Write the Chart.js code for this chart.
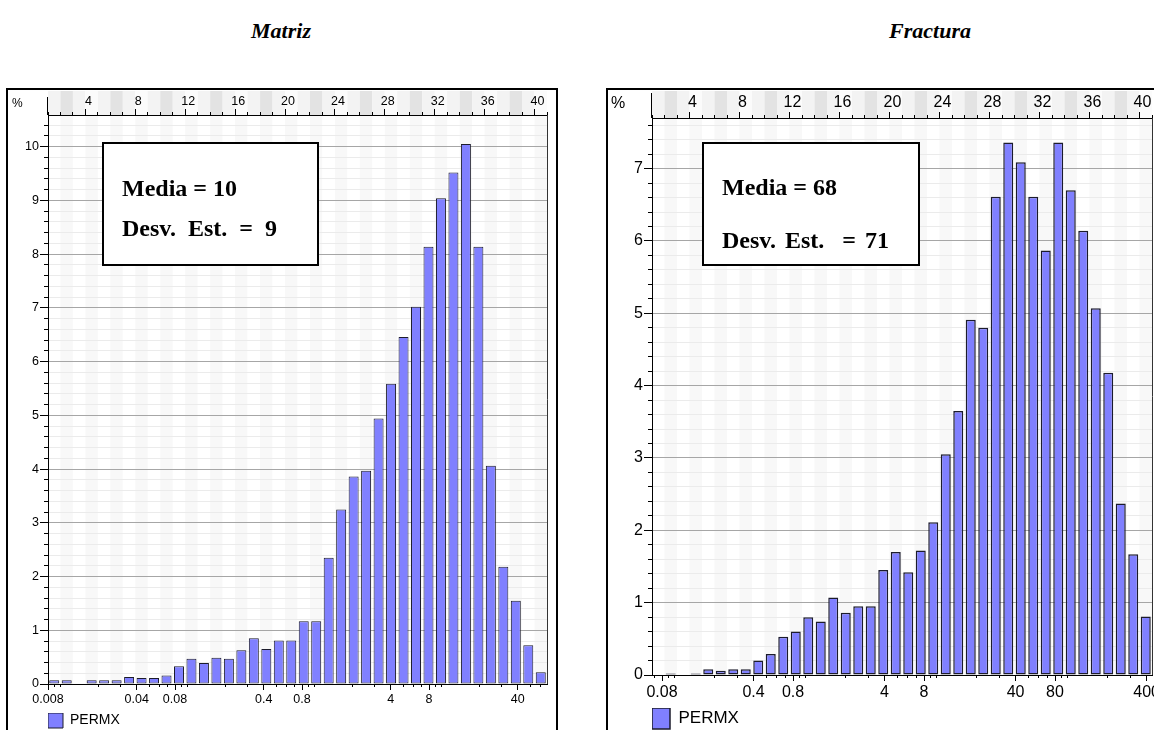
<!DOCTYPE html>
<html>
<head>
<meta charset="utf-8">
<script src="https://cdn.jsdelivr.net/npm/chart.js@4.4.1/dist/chart.umd.min.js"></script>
<style>
  html, body { margin:0; padding:0; background:#fff; width:1154px; height:730px; overflow:hidden; position:relative; }
  canvas { position:absolute; }
  .frame { position:absolute; box-sizing:border-box; border:2px solid #000; background:transparent; z-index:2; pointer-events:none; }
  .title { position:absolute; font-family:'Liberation Serif','Times New Roman',serif; font-weight:bold; font-style:italic; font-size:22px; transform:translateX(-50%); white-space:nowrap; line-height:22px; }
  .statbox { position:absolute; box-sizing:border-box; border:2px solid #000; background:#fff; z-index:3; }
  .stat { position:absolute; font-family:'Liberation Serif','Times New Roman',serif; font-weight:bold; font-size:24px; line-height:24px; white-space:pre; z-index:4; }
  .pct { position:absolute; font-family:'Liberation Sans',Arial,sans-serif; z-index:4; }
</style>
</head>
<body>
<div class="title" style="left:281px; top:20px;">Matriz</div>
<div class="title" style="left:930px; top:20px;">Fractura</div>

<canvas id="c1" width="556" height="660" style="left:0px; top:90px;"></canvas>
<canvas id="c2" width="570" height="660" style="left:600px; top:90px;"></canvas>

<div class="frame" style="left:6px; top:88px; width:552px; height:700px;"></div>
<div class="frame" style="left:606px; top:88px; width:700px; height:700px;"></div>

<div class="pct" style="left:12px; top:96px; font-size:12px;">%</div>
<div class="pct" style="left:611px; top:94px; font-size:16px;">%</div>

<div class="statbox" style="left:102px; top:142px; width:217px; height:124px;"></div>
<div class="stat" style="left:122px; top:176px;">Media = 10</div>
<div class="stat" style="left:122px; top:216px; word-spacing:6px;">Desv. Est. = 9</div>

<div class="statbox" style="left:702px; top:142px; width:218px; height:124px;"></div>
<div class="stat" style="left:722px; top:175px;">Media = 68</div>
<div class="stat" style="left:722px; top:228px; word-spacing:3px;">Desv. Est.  = 71</div>

<script>
// ---------------- data ----------------
const BINS = [1,2,3,4,5,6,7,8,9,10,11,12,13,14,15,16,17,18,19,20,21,22,23,24,25,26,27,28,29,30,31,32,33,34,35,36,37,38,39,40];
const MATRIZ_PCT = [0.07,0.07,0,0.07,0.07,0.07,0.13,0.11,0.11,0.16,0.33,0.47,0.39,0.49,0.47,0.63,0.85,0.65,0.81,0.81,1.17,1.17,2.35,3.25,3.86,3.97,4.94,5.59,6.46,7.02,8.14,9.04,9.52,10.05,8.14,4.06,2.18,1.55,0.72,0.22];
const FRACTURA_PCT = [0,0.02,0,0.02,0.08,0.06,0.08,0.08,0.20,0.29,0.53,0.60,0.80,0.74,1.07,0.86,0.95,0.95,1.45,1.70,1.42,1.72,2.11,3.05,3.65,4.91,4.80,6.61,7.36,7.09,6.61,5.87,7.36,6.70,6.14,5.07,4.18,2.37,1.67,0.81];
const TOP_TICKS = [4,8,12,16,20,24,28,32,36,40];
const MATRIZ_PERM_TICKS = [0.008,0.04,0.08,0.4,0.8,4,8,40];
const FRACTURA_PERM_TICKS = [0.08,0.4,0.8,4,8,40,80,400];
const MATRIZ_Y_TICKS = [0,1,2,3,4,5,6,7,8,9,10];
const FRACTURA_Y_TICKS = [0,1,2,3,4,5,6,7];
const SERIES_NAME = 'PERMX';

// ---------------- styling ----------------
const SANS = "'Liberation Sans',Arial,sans-serif";
const BAR_FILL = '#8080ff';
const BAR_EDGE = '#1c1c2c';

function decoPlugin(o) {
  return {
    id: 'deco',
    beforeDraw(chart) {
      const {ctx, chartArea: a} = chart;
      const sx = chart.scales.xTop;
      const n = chart.data.labels.length;
      ctx.save();
      for (let i = 1; i <= n; i++) {
        const x0 = sx.getPixelForValue(i), x1 = sx.getPixelForValue(i + 1);
        ctx.fillStyle = (i % 4 === 2) ? '#e3e3e3' : (i % 2 === 1 ? '#f3f3f3' : '#fbfbfb');
        ctx.fillRect(x0, o.bandTop, x1 - x0, a.top - o.bandTop);
        ctx.fillStyle = (i % 2 === 0) ? '#f8f8f8' : '#ffffff';
        ctx.fillRect(x0, a.top, x1 - x0, a.bottom - a.top);
      }
      ctx.restore();
    },
    afterDraw(chart) {
      const {ctx, chartArea: a} = chart;
      ctx.save();
      ctx.strokeStyle = '#000';
      ctx.lineWidth = 1;
      ctx.beginPath();
      ctx.moveTo(a.left - 0.5, a.top - o.axisExt);
      ctx.lineTo(a.left - 0.5, a.top);
      ctx.stroke();
      ctx.strokeStyle = '#333';
      ctx.beginPath();
      ctx.moveTo(a.right + 0.5, a.top);
      ctx.lineTo(a.right + 0.5, a.bottom);
      ctx.stroke();
      ctx.restore();
    }
  };
}

function makeChart(id, cfg) {
  const font = {family: SANS, size: cfg.fontSize};
  const fix = v => String(+v.toPrecision(6));
  return new Chart(document.getElementById(id), {
    type: 'bar',
    data: {
      labels: BINS,
      datasets: [{
        label: SERIES_NAME,
        data: cfg.values,
        backgroundColor: BAR_FILL,
        borderColor: BAR_EDGE,
        borderWidth: cfg.barBorder,
        borderSkipped: false,
        barPercentage: 0.8,
        categoryPercentage: 1.0,
        xAxisID: 'x',
        yAxisID: 'y'
      }]
    },
    options: {
      responsive: false,
      animation: false,
      devicePixelRatio: 1,
      layout: {padding: cfg.padding},
      plugins: {
        tooltip: {enabled: false},
        legend: {
          display: true, position: 'bottom', align: 'start', fullSize: false,
          labels: {boxWidth: cfg.legendBox[0], boxHeight: cfg.legendBox[1], padding: 0,
                   color: '#000', font: {family: SANS, size: cfg.legendFont}}
        }
      },
      scales: {
        x: {type: 'category', display: false, offset: true, grid: {display: false}},
        y: {
          type: 'linear', position: 'left', weight: 1, min: 0, max: cfg.yMax,
          afterBuildTicks: s => { s.ticks = cfg.yTicks.map(v => ({value: v})); },
          afterFit: s => { s.width = cfg.yWidth; },
          ticks: {font, color: '#000', padding: 1, callback: v => fix(v)},
          grid: {color: '#a6a6a6', lineWidth: 1, tickLength: 8, tickColor: '#000', drawOnChartArea: true},
          border: {display: true, color: '#000', width: 1}
        },
        yMinor: {
          type: 'linear', position: 'left', weight: 0, min: 0, max: cfg.yMax,
          afterBuildTicks: s => {
            const t = [];
            for (let i = 1; i <= Math.floor(cfg.yMax * 5); i++) if (i % 5 !== 0) t.push({value: i / 5});
            s.ticks = t;
          },
          afterFit: s => { s.width = 0; },
          ticks: {display: false},
          grid: {color: '#ebebeb', lineWidth: 1, tickLength: 4, tickColor: '#000', drawOnChartArea: true},
          border: {display: false}
        },
        xTop: {
          type: 'linear', position: 'top', weight: 1, offset: false, min: 1, max: BINS.length + 1,
          afterBuildTicks: s => { s.ticks = TOP_TICKS.map(v => ({value: v})); },
          afterFit: s => { s.height = cfg.topHeight; },
          ticks: {font, color: '#000', padding: 0, labelOffset: 3, maxRotation: 0, autoSkip: false, callback: v => fix(v)},
          grid: {offset: false, drawOnChartArea: false, tickLength: 6, tickColor: '#000'},
          border: {display: true, color: '#000', width: 1}
        },
        xTopMinor: {
          type: 'linear', position: 'top', weight: 0, offset: false, min: 1, max: BINS.length + 1,
          afterBuildTicks: s => { s.ticks = BINS.map(v => ({value: v})).concat([{value: BINS.length + 1}]); },
          afterFit: s => { s.height = 0; },
          ticks: {display: false},
          grid: {offset: false, drawOnChartArea: false, tickLength: 3, tickColor: '#000'},
          border: {display: false}
        },
        xPerm: {
          type: 'logarithmic', position: 'bottom', weight: 1, offset: false, min: cfg.logMin, max: cfg.logMax,
          afterBuildTicks: s => { s.ticks = cfg.permTicks.map(v => ({value: v})); },
          afterFit: s => { s.height = cfg.bottomHeight; },
          ticks: {font, color: '#000', padding: 2, maxRotation: 0, autoSkip: false, callback: v => fix(v)},
          grid: {offset: false, drawOnChartArea: false, tickLength: 6, tickColor: '#000'},
          border: {display: true, color: '#000', width: 1}
        },
        xPermMinor: {
          type: 'logarithmic', position: 'bottom', weight: 0, offset: false, min: cfg.logMin, max: cfg.logMax,
          afterBuildTicks: s => {
            const t = [];
            for (let e = -4; e <= 4; e++) for (let m = 1; m <= 9; m++) {
              const v = m * Math.pow(10, e);
              if (v >= cfg.logMin && v <= cfg.logMax) t.push({value: v});
            }
            s.ticks = t;
          },
          afterFit: s => { s.height = 0; },
          ticks: {display: false},
          grid: {offset: false, drawOnChartArea: false, tickLength: 3, tickColor: '#000'},
          border: {display: false}
        }
      }
    },
    plugins: [decoPlugin({bandTop: cfg.bandTop, axisExt: cfg.axisExt})]
  });
}

makeChart('c1', {
  values: MATRIZ_PCT, yTicks: MATRIZ_Y_TICKS, permTicks: MATRIZ_PERM_TICKS,
  yMax: 10.59, logMin: 0.008, logMax: 67.9,
  fontSize: 12.5, legendFont: 14, legendBox: [15, 15], barBorder: 1,
  padding: {left: 0, top: 0, right: 9, bottom: 12},
  yWidth: 48, topHeight: 25, bottomHeight: 29, bandTop: 1, axisExt: 18
});

makeChart('c2', {
  values: FRACTURA_PCT, yTicks: FRACTURA_Y_TICKS, permTicks: FRACTURA_PERM_TICKS,
  yMax: 7.70, logMin: 0.0671, logMax: 440,
  fontSize: 16, legendFont: 17, legendBox: [18, 21], barBorder: 1.5,
  padding: {left: 0, top: 0, right: 18, bottom: 11},
  yWidth: 52, topHeight: 28, bottomHeight: 33, bandTop: 1, axisExt: 25
});
</script>
</body>
</html>
